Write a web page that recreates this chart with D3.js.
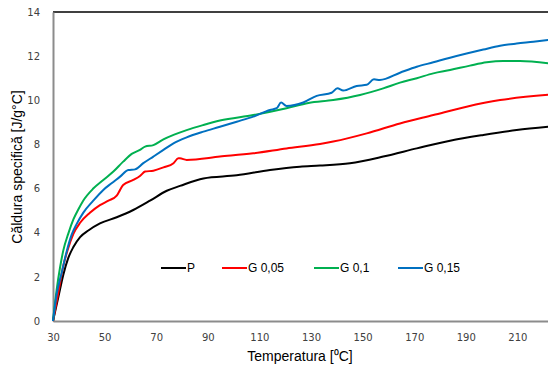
<!DOCTYPE html>
<html>
<head>
<meta charset="utf-8">
<script src="https://cdn.jsdelivr.net/npm/d3@7"></script>
<style>
  body { margin: 0; background: #fff; }
  svg { display: block; }
</style>
</head>
<body>
<svg id="chart" width="548" height="368"></svg>
<script>
// values (temperature, specific heat)
const seriesNames = ["P", "G 0,05", "G 0,1", "G 0,15"];
const seriesColors = ["#000000", "#ff0000", "#00b050", "#0070c0"];

const pT = [30, 32.1, 34, 35.9, 37.9, 40.5, 43.7, 48.2, 54.7, 61.1, 67.6, 74.1, 79.2, 88.3, 101.2, 114.1, 125.7, 133.5, 145.1, 158, 171, 183.9, 196.8, 209.7, 222];
const pV = [0, 1.1, 2.1, 2.85, 3.35, 3.8, 4.1, 4.42, 4.7, 5.03, 5.45, 5.9, 6.12, 6.46, 6.6, 6.84, 6.99, 7.04, 7.15, 7.45, 7.82, 8.17, 8.43, 8.65, 8.8];

const g05T = [30, 32.1, 34, 35.9, 37.9, 40.5, 44.3, 48.2, 51.5, 54.7, 56, 57.2, 61.1, 63.7, 65.7, 68.9, 72.8, 76.7, 78.6, 79.2, 81.8, 94.7, 107.6, 120.5, 133.5, 138.6, 151.6, 164.5, 177.4, 190.3, 203.3, 222];
const g05V = [0, 1.3, 2.5, 3.3, 3.95, 4.45, 4.9, 5.25, 5.45, 5.68, 5.94, 6.16, 6.39, 6.57, 6.77, 6.81, 6.96, 7.15, 7.37, 7.37, 7.3, 7.45, 7.6, 7.82, 8.02, 8.13, 8.5, 8.95, 9.33, 9.71, 10.01, 10.25];

const g1T = [30, 31.4, 32.7, 34, 35.9, 37.9, 39.8, 41.7, 45.6, 49.5, 53.4, 57.2, 60.5, 63.7, 65.7, 68.9, 72.8, 76.7, 81.8, 88.3, 94.7, 107.6, 120.5, 129, 138.6, 149, 158, 164.5, 171, 177.4, 183.9, 191.6, 198.1, 204.5, 211, 222];
const g1V = [0, 1.4, 2.4, 3.2, 3.95, 4.6, 5.05, 5.45, 6.0, 6.39, 6.77, 7.22, 7.57, 7.75, 7.9, 7.97, 8.23, 8.43, 8.65, 8.88, 9.08, 9.33, 9.64, 9.88, 10.01, 10.24, 10.54, 10.8, 11.0, 11.22, 11.37, 11.57, 11.72, 11.78, 11.78, 11.68];

const g15T = [30, 31.4, 33.4, 35.3, 37.2, 39.2, 41.7, 45.6, 49.5, 52.7, 56, 59.2, 61.8, 65, 68.9, 72.8, 76.7, 81.8, 88.3, 94.7, 101.2, 107.6, 114.1, 116.7, 118.4, 120.5, 127, 132.2, 138, 140.2, 142.5, 147.7, 151.6, 154.4, 156.7, 164.5, 171, 177.4, 183.9, 190.3, 196.8, 203.3, 209.7, 216.2, 222];
const g15V = [0, 1.2, 2.2, 3.15, 3.9, 4.4, 4.9, 5.45, 5.94, 6.24, 6.54, 6.84, 6.87, 7.15, 7.45, 7.75, 8.05, 8.32, 8.58, 8.8, 9.03, 9.26, 9.56, 9.64, 9.9, 9.74, 9.9, 10.2, 10.34, 10.54, 10.44, 10.65, 10.7, 10.95, 10.92, 11.25, 11.52, 11.72, 11.93, 12.12, 12.3, 12.47, 12.57, 12.65, 12.73];

const xTicks = [30, 50, 70, 90, 110, 130, 150, 170, 190, 210];
const yTicks = [0, 2, 4, 6, 8, 10, 12, 14];

const allT = [pT, g05T, g1T, g15T];
const allV = [pV, g05V, g1V, g15V];

let chart = d3.select("#chart");

let xScale = d3.scaleLinear()
    .domain([30, 230])
    .range([53, 569]);

let yScale = d3.scaleLinear()
    .domain([0, 14])
    .range([321, 12]);

// top border
chart.append("line")
    .attr("x1", 53).attr("x2", 548)
    .attr("y1", yScale(14)).attr("y2", yScale(14))
    .attr("stroke", "#000").attr("stroke-width", 1.5);

// y axis
let yAxis = chart.append("g")
    .attr("transform", "translate(53,0)")
    .call(d3.axisLeft(yScale).tickValues(yTicks).tickSize(0).tickPadding(13));
yAxis.select(".domain").attr("stroke", "#8c8c8c").attr("stroke-width", 2);
yAxis.selectAll("text")
    .attr("font-family", "DejaVu Sans")
    .attr("font-size", 10)
    .attr("fill", "#404040");

// x axis
let xAxis = chart.append("g")
    .attr("transform", "translate(0,321)")
    .call(d3.axisBottom(xScale).tickValues(xTicks).tickSize(0).tickPadding(13));
xAxis.select(".domain").attr("stroke", "#8c8c8c").attr("stroke-width", 2);
xAxis.selectAll("text")
    .attr("font-family", "DejaVu Sans")
    .attr("font-size", 10)
    .attr("fill", "#404040");

// lines
let line = d3.line()
    .x(d => xScale(d[0]))
    .y(d => yScale(d[1]))
    .curve(d3.curveMonotoneX);

seriesNames.forEach((name, i) => {
    let pts = allT[i].map((t, j) => [t, allV[i][j]]);
    chart.append("path")
        .datum(pts)
        .attr("d", line)
        .attr("fill", "none")
        .attr("stroke", seriesColors[i])
        .attr("stroke-width", 2)
        .attr("stroke-linejoin", "round");
});

// legend
const legendX = [161, 222, 314, 398];
let legend = chart.append("g");
seriesNames.forEach((name, i) => {
    legend.append("line")
        .attr("x1", legendX[i]).attr("x2", legendX[i] + 25)
        .attr("y1", 268).attr("y2", 268)
        .attr("stroke", seriesColors[i]).attr("stroke-width", 2);
    legend.append("text")
        .text(name)
        .attr("x", legendX[i] + 26)
        .attr("y", 272)
        .attr("font-family", "Liberation Sans")
        .attr("font-size", 12)
        .attr("fill", "#000");
});

// axis titles
chart.append("text")
    .text("Temperatura [\u2070C]")
    .attr("x", 300)
    .attr("y", 361)
    .attr("text-anchor", "middle")
    .attr("font-family", "Liberation Sans")
    .attr("font-size", 14)
    .attr("fill", "#000");

chart.append("text")
    .text("Căldura specifică [J/g°C]")
    .attr("transform", "translate(22,167) rotate(-90)")
    .attr("text-anchor", "middle")
    .attr("font-family", "Liberation Sans")
    .attr("font-size", 14)
    .attr("fill", "#000");
</script>
</body>
</html>
